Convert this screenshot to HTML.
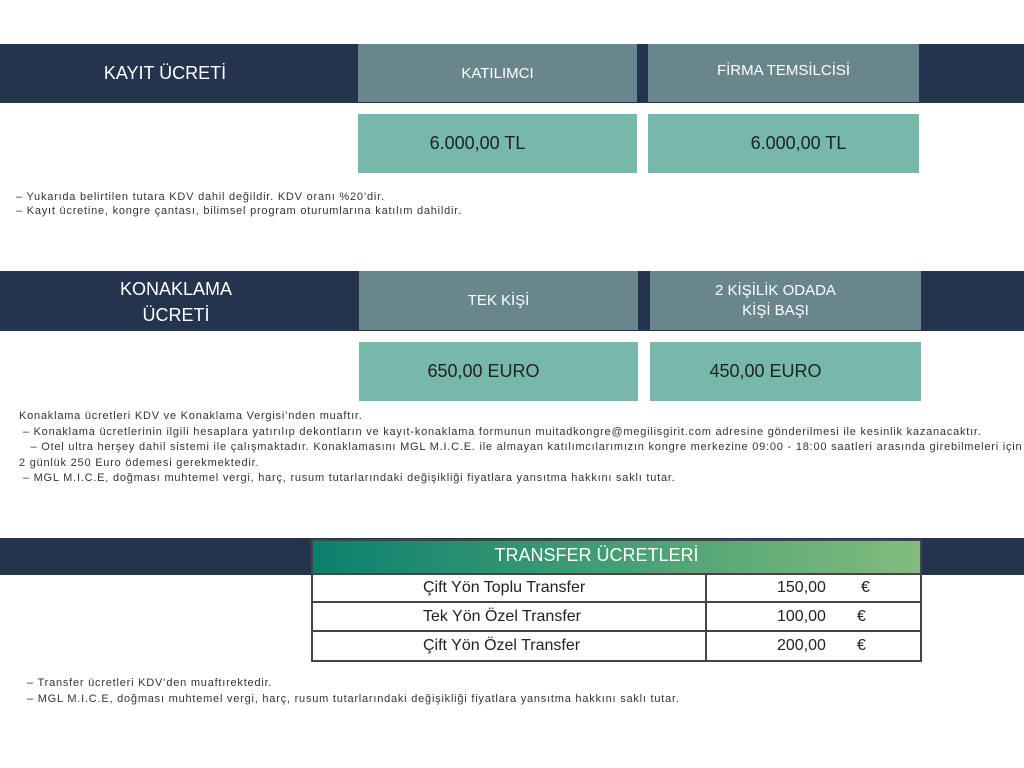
<!DOCTYPE html>
<html><head><meta charset="utf-8"><style>
body{margin:0;width:1024px;height:768px;background:#fff;position:relative;font-family:"Liberation Sans","DejaVu Sans",sans-serif;overflow:hidden}
div{position:absolute;box-sizing:border-box}
.bar{background:#25344e;left:0;width:1024px}
.hd{background:#6a868d;color:#fff;font-size:15px;display:flex;align-items:center;justify-content:center;text-align:center;line-height:20px}
.val{background:#76b8aa;color:#222;font-size:18px;display:flex;align-items:center;justify-content:center}
.t{color:#fff;font-size:18px;text-align:center;line-height:26px}
.n{font-size:11px;color:#333;white-space:nowrap;line-height:14px;letter-spacing:0.78px}
.row{left:311px;width:611px;border:2px solid #444;border-top:none;font-size:16px;color:#222}
.row span{position:absolute;top:0;bottom:0;display:flex;align-items:center}
</style></head><body>
<div class="bar" style="top:44px;height:59px"></div>
<div class="t" style="left:60px;top:60px;width:210px">KAYIT ÜCRETİ</div>
<div class="hd" style="left:358px;top:44px;width:279px;height:58px;padding-top:2px">KATILIMCI</div>
<div class="hd" style="left:648px;top:44px;width:271px;height:58px;padding-bottom:4px">FİRMA TEMSİLCİSİ</div>
<div class="val" style="left:358px;top:114px;width:279px;height:59px;padding-right:40px">6.000,00 TL</div>
<div class="val" style="left:648px;top:114px;width:271px;height:59px;padding-left:30px">6.000,00 TL</div>
<div class="n" style="left:16px;top:190px">– Yukarıda belirtilen tutara KDV dahil değildir. KDV oranı %20’dir.<br>– Kayıt ücretine, kongre çantası, bilimsel program oturumlarına katılım dahildir.</div>

<div class="bar" style="top:271px;height:60px"></div>
<div class="t" style="left:76px;top:276px;width:200px">KONAKLAMA<br>ÜCRETİ</div>
<div class="hd" style="left:359px;top:271px;width:279px;height:59px">TEK KİŞİ</div>
<div class="hd" style="left:650px;top:271px;width:271px;height:59px;padding-right:20px">2 KİŞİLİK ODADA<br>KİŞİ BAŞI</div>
<div class="val" style="left:359px;top:342px;width:279px;height:59px;padding-right:30px">650,00 EURO</div>
<div class="val" style="left:650px;top:342px;width:271px;height:59px;padding-right:40px">450,00 EURO</div>
<div class="n" style="left:19px;top:409px;line-height:15.5px">Konaklama ücretleri KDV ve Konaklama Vergisi’nden muaftır.<br>&nbsp;– Konaklama ücretlerinin ilgili hesaplara yatırılıp dekontların ve kayıt-konaklama formunun muitadkongre@megilisgirit.com adresine gönderilmesi ile kesinlik kazanacaktır.<br>&nbsp;&nbsp;&nbsp;– Otel ultra herşey dahil sistemi ile çalışmaktadır. Konaklamasını MGL M.I.C.E. ile almayan katılımcılarımızın kongre merkezine 09:00 - 18:00 saatleri arasında girebilmeleri için<br>2 günlük 250 Euro ödemesi gerekmektedir.<br>&nbsp;– MGL M.I.C.E, doğması muhtemel vergi, harç, rusum tutarlarındaki değişikliği fiyatlara yansıtma hakkını saklı tutar.</div>

<div class="bar" style="top:538px;height:37px"></div>
<div style="left:311px;top:539px;width:611px;height:36px;border:2px solid #444;background:linear-gradient(90deg,#0b806e,#82bc7c);color:#fff;font-size:18px;text-align:center;line-height:28px;padding-right:40px">TRANSFER ÜCRETLERİ</div>
<div class="row" style="top:575px;height:28px;background:#fff"><span style="left:110px">Çift Yön Toplu Transfer</span><span style="left:392px;top:-1px;width:2px;background:#444"></span><span style="left:464px">150,00</span><span style="left:548px">€</span></div>
<div class="row" style="top:603px;height:29px;background:#fff"><span style="left:110px">Tek Yön Özel Transfer</span><span style="left:392px;width:2px;background:#444"></span><span style="left:464px">100,00</span><span style="left:544px">€</span></div>
<div class="row" style="top:632px;height:30px;background:#fff"><span style="left:110px">Çift Yön Özel Transfer</span><span style="left:392px;width:2px;background:#444"></span><span style="left:464px">200,00</span><span style="left:544px">€</span></div>
<div class="n" style="left:27px;top:675px;line-height:16px">– Transfer ücretleri KDV’den muaftırektedir.<br>– MGL M.I.C.E, doğması muhtemel vergi, harç, rusum tutarlarındaki değişikliği fiyatlara yansıtma hakkını saklı tutar.</div>
</body></html>
